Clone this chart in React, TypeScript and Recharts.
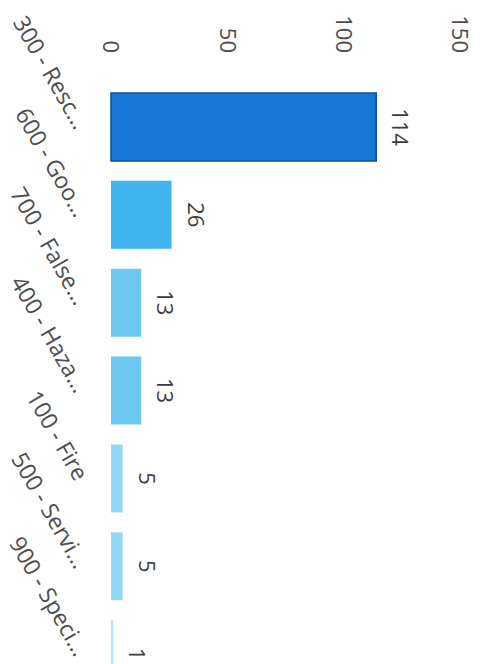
import { Bar, BarChart, Cell, LabelList, XAxis, YAxis } from 'recharts';

// incident types and counts (chart is printed sideways)
const categories = [
  '300 - Resc…',
  '600 - Goo…',
  '700 - False…',
  '400 - Haza…',
  '100 - Fire',
  '500 - Servi…',
  '900 - Speci…'
];
const counts = [114, 26, 13, 13, 5, 5, 1];
const barColors = ['#1677d4', '#3fb3ee', '#6cc8f0', '#6cc8f0', '#92d7f4', '#92d7f4', '#b5e5f8'];
const valueTicks = [0, 50, 100, 150];

const data = categories.map((name, i) => ({ name, value: counts[i] }));

const FONT = '"Open Sans", "Noto Sans", sans-serif';
const TEXT = '#4d4d4d';

function CategoryTick({ x, y, payload }: any) {
  return (
    <g transform={`translate(${x},${y})`}>
      <text
        textAnchor="end"
        transform="rotate(-30)"
        dy="0.35em"
        fontSize={23}
        fill={TEXT}
        fontFamily={FONT}
      >
        {payload.value}
      </text>
    </g>
  );
}

export default function App() {
  return (
    <div
      style={{
        position: 'absolute',
        left: 0,
        top: 0,
        width: 486,
        height: 664,
        overflow: 'hidden',
        background: '#fff'
      }}
    >
      <div
        style={{
          position: 'absolute',
          left: 0,
          top: 0,
          width: 720,
          height: 486,
          transform: 'translateX(486px) rotate(90deg)',
          transformOrigin: '0 0'
        }}
      >
        <BarChart
          data={data}
          width={720}
          height={486}
          margin={{ top: 26, right: 22, bottom: 0, left: 0 }}
          barCategoryGap={10}
        >
          <XAxis
            dataKey="name"
            height={111}
            interval={0}
            axisLine={false}
            tickLine={false}
            tickSize={0}
            tickMargin={29}
            tick={<CategoryTick />}
          />
          <YAxis
            width={83}
            domain={[0, 150]}
            ticks={valueTicks}
            axisLine={false}
            tickLine={false}
            tickSize={0}
            tickMargin={30}
            tick={{ fontSize: 22, fill: TEXT, fontFamily: FONT }}
          />
          <Bar dataKey="value" isAnimationActive={false}>
            {data.map((d, i) => (
              <Cell
                key={d.name}
                fill={barColors[i]}
                stroke={i === 0 ? '#0d4f9e' : 'none'}
                strokeWidth={i === 0 ? 1.5 : 0}
              />
            ))}
            <LabelList
              dataKey="value"
              position="top"
              offset={16}
              style={{ fontSize: 22, fill: '#3d3d3d', fontFamily: FONT }}
            />
          </Bar>
        </BarChart>
      </div>
    </div>
  );
}
